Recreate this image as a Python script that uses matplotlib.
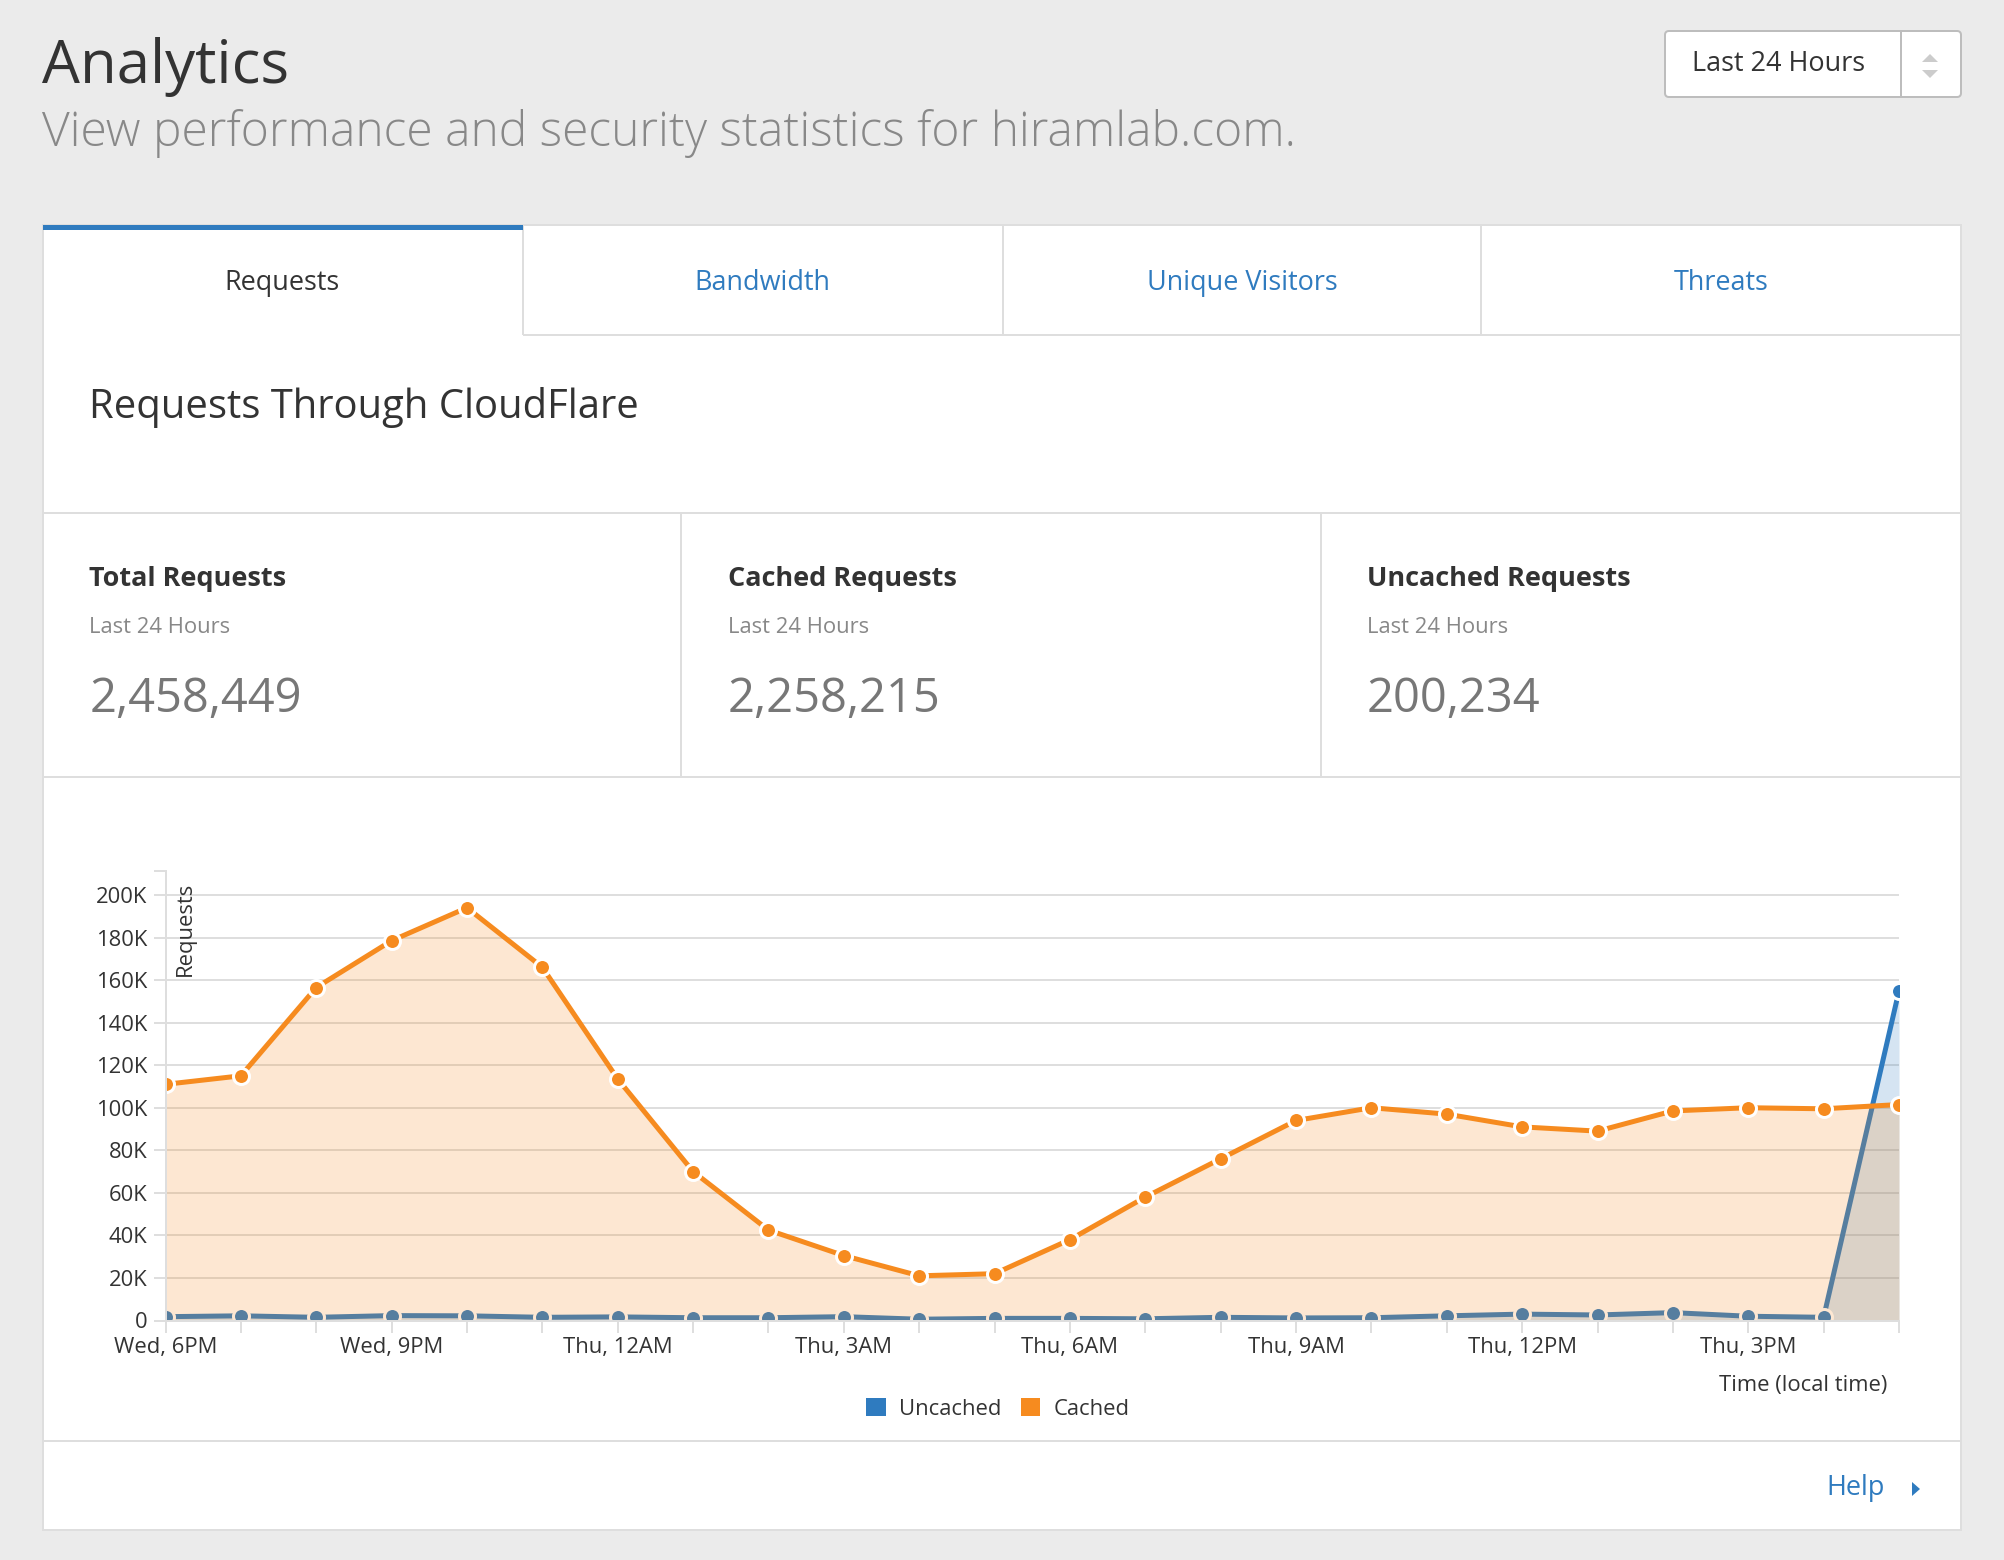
import matplotlib
matplotlib.use("Agg")
import matplotlib.pyplot as plt
from matplotlib.patches import Rectangle, Patch, FancyBboxPatch, Polygon

W, H = 2004, 1560
plt.rcParams['font.family'] = ['Open Sans', 'DejaVu Sans']

# chart data, thousands of requests per hour
hours = list(range(24))
uncached = [1.8, 2.2, 1.5, 2.3, 2.2, 1.5, 1.7, 1.3, 1.3, 1.8, 0.6, 1.0,
            1.0, 0.8, 1.5, 1.2, 1.3, 2.2, 3.0, 2.6, 3.7, 2.0, 1.5, 155]
cached = [111, 115, 156.5, 178.5, 194, 166, 113.5, 70, 42.5, 30.5, 21, 22,
          38, 58, 76, 94, 100, 97, 91, 89, 98.5, 100, 99.5, 101.5]
time_labels = ["Wed, 6PM", "", "", "Wed, 9PM", "", "", "Thu, 12AM", "", "",
               "Thu, 3AM", "", "", "Thu, 6AM", "", "", "Thu, 9AM", "", "",
               "Thu, 12PM", "", "", "Thu, 3PM", "", ""]
y_ticks = [0, 20, 40, 60, 80, 100, 120, 140, 160, 180, 200]
y_labels = ["0", "20K", "40K", "60K", "80K", "100K", "120K", "140K", "160K", "180K", "200K"]

tabs = ["Requests", "Bandwidth", "Unique Visitors", "Threats"]
stat_titles = ["Total Requests", "Cached Requests", "Uncached Requests"]
stat_values = ["2,458,449", "2,258,215", "200,234"]

BLUE = "#2f7bbf"
ORANGE = "#f68b1f"
LINE = "#dedede"
DARK = "#333333"

fig = plt.figure(figsize=(W / 100, H / 100), dpi=100, facecolor="#ebebeb")


def px(v):
    return v * 72 / 100


# page, in pixel coordinates
bg = fig.add_axes([0, 0, 1, 1])
bg.set_xlim(0, W)
bg.set_ylim(H, 0)
bg.axis("off")

bg.add_patch(Rectangle((43, 225), 1918, 1305, fc="white", ec=LINE, lw=px(2)))
bg.add_patch(Rectangle((43, 225), 480, 5, fc=BLUE, ec="none", zorder=3))


def hline(y, x0=43, x1=1961):
    bg.plot([x0, x1], [y, y], color=LINE, lw=px(2), solid_capstyle="butt")


def vline(x, y0, y1):
    bg.plot([x, x], [y0, y1], color=LINE, lw=px(2), solid_capstyle="butt")


hline(335, 523, 1961)
for x in [523, 1003, 1481]:
    vline(x, 225, 335)
hline(513)
hline(777)
vline(681, 513, 777)
vline(1321, 513, 777)
hline(1441)

bg.text(42, 67, "Analytics", fontsize=px(60), color=DARK, va="center", weight="normal")
bg.text(42, 133, "View performance and security statistics for hiramlab.com.",
        fontsize=px(48), color="#888888", va="center", weight="light")

# range selector
bg.add_patch(FancyBboxPatch((1665, 31), 296, 66, boxstyle="round,pad=0,rounding_size=4",
                            fc="white", ec="#bdbdbd", lw=px(2)))
bg.plot([1901, 1901], [31, 97], color="#bdbdbd", lw=px(2))
bg.text(1692, 64, "Last 24 Hours", fontsize=px(27), color=DARK, va="center")
bg.add_patch(Polygon([[1922, 62], [1938, 62], [1930, 54]], fc="#cccccc", ec="none"))
bg.add_patch(Polygon([[1922, 70], [1938, 70], [1930, 78]], fc="#cccccc", ec="none"))

tab_centers = [282.5, 762, 1242, 1721]
for i in range(len(tabs)):
    bg.text(tab_centers[i], 283, tabs[i], fontsize=px(27), ha="center", va="center",
            color=DARK if i == 0 else BLUE)

bg.text(89.5, 408, "Requests Through CloudFlare", fontsize=px(40), color=DARK, va="center")

stat_x = [89.5, 728, 1367]
for i in range(3):
    bg.text(stat_x[i], 579, stat_titles[i], fontsize=px(27), color=DARK, va="center", weight="bold")
    bg.text(stat_x[i], 627.5, "Last 24 Hours", fontsize=px(22), color="#888888", va="center")
    bg.text(stat_x[i], 699, stat_values[i], fontsize=px(47), color="#777777", va="center")

bg.text(1885, 1488, "Help", fontsize=px(27), color=BLUE, ha="right", va="center")
bg.add_patch(Polygon([[1912, 1482], [1912, 1496], [1920, 1489]], fc=BLUE, ec="none"))

# chart
left, right, top, bottom = 165.5, 1899, 870.7, 1320.5
ax = fig.add_axes([left / W, 1 - bottom / H, (right - left) / W, (bottom - top) / H])
ax.patch.set_alpha(0)
ax.set_xlim(0, 23)
ax.set_ylim(0, 211.4)

ax.fill_between(hours, uncached, color=BLUE, alpha=0.2, lw=0, zorder=1.1)
ax.plot(hours, uncached, color=BLUE, lw=px(5), marker="o", ms=px(16), mfc=BLUE,
        mec="white", mew=px(3), zorder=1.2)
ax.fill_between(hours, cached, color=ORANGE, alpha=0.2, lw=0, zorder=1.3)
ax.plot(hours, cached, color=ORANGE, lw=px(5), marker="o", ms=px(16), mfc=ORANGE,
        mec="white", mew=px(3), zorder=1.4)

ax.set_yticks(y_ticks)
ax.set_yticklabels(y_labels)
ax.set_yticks([211.4], minor=True)
ax.set_xticks(hours)
ax.set_xticklabels(time_labels)
ax.grid(axis="y", color=LINE, lw=px(2), zorder=0.5)
ax.set_axisbelow(True)
ax.tick_params(axis="y", which="both", color=LINE, width=px(2), length=px(12), pad=px(6),
               labelsize=px(22), labelcolor=DARK)
ax.tick_params(axis="x", color=LINE, width=px(2), length=px(12), pad=px(4),
               labelsize=px(22), labelcolor=DARK)
for s in ["top", "right"]:
    ax.spines[s].set_visible(False)
for s in ["left", "bottom"]:
    ax.spines[s].set_color(LINE)
    ax.spines[s].set_linewidth(px(2))

ax.set_ylabel("Requests", fontsize=px(22), color=DARK, rotation=90, ha="right", va="center")
ax.yaxis.set_label_coords((185 - left) / (right - left), (bottom - 882) / (bottom - top))
ax.set_xlabel("Time (local time)", fontsize=px(22), color=DARK, ha="right", va="center")
ax.xaxis.set_label_coords((1887 - left) / (right - left), (bottom - 1385) / (bottom - top))

ax.legend(handles=[Patch(fc=BLUE, label="Uncached"), Patch(fc=ORANGE, label="Cached")],
          ncol=2, frameon=False, fontsize=px(22), handlelength=0.9, handleheight=0.9,
          handletextpad=0.6, columnspacing=0.85, loc="center",
          bbox_to_anchor=((998 - left) / (right - left), (bottom - 1409) / (bottom - top)),
          labelcolor=DARK, borderpad=0, borderaxespad=0)

fig.savefig("out.png", dpi=100, facecolor=fig.get_facecolor())
